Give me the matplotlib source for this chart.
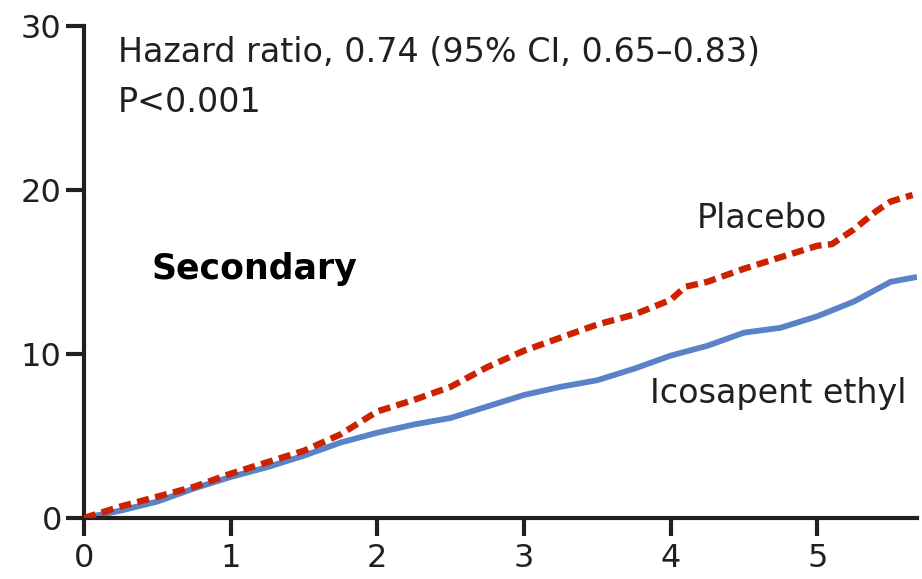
import matplotlib
matplotlib.use("Agg")
import matplotlib.pyplot as plt

# Cumulative incidence (%) by years since randomization
years = [0, 0.25, 0.5, 0.75, 1.0, 1.25, 1.5, 1.75, 2.0, 2.25, 2.5, 2.75,
         3.0, 3.25, 3.5, 3.75, 4.0, 4.1, 4.25, 4.5, 4.75, 5.0, 5.1, 5.25,
         5.4, 5.5, 5.65]
placebo = [0, 0.7, 1.3, 1.9, 2.7, 3.4, 4.1, 5.1, 6.5, 7.2, 8.0, 9.2,
           10.2, 11.0, 11.8, 12.4, 13.3, 14.1, 14.4, 15.2, 15.9, 16.6, 16.7, 17.6,
           18.7, 19.3, 19.7]

years_ice = [0, 0.25, 0.5, 0.75, 1.0, 1.25, 1.5, 1.75, 2.0, 2.25, 2.5, 2.75,
             3.0, 3.25, 3.5, 3.75, 4.0, 4.25, 4.5, 4.75, 5.0, 5.25, 5.5, 5.68]
icosapent = [0, 0.45, 1.0, 1.8, 2.5, 3.1, 3.8, 4.6, 5.2, 5.7, 6.1, 6.8,
             7.5, 8.0, 8.4, 9.1, 9.9, 10.5, 11.3, 11.6, 12.3, 13.2, 14.4, 14.7]

x_ticks = [0, 1, 2, 3, 4, 5]
y_ticks = [0, 10, 20, 30]

plt.rcParams['font.family'] = ['DejaVu Sans']

fig = plt.figure(figsize=(9.22, 5.79), dpi=100)
ax = fig.add_axes([0.0911, 0.1054, 0.9035, 0.8496])

ax.plot(years_ice, icosapent, color='#5a82c6', lw=4.2,
        solid_capstyle='butt', solid_joinstyle='miter', zorder=2)
ax.plot(years, placebo, color='#cc2200', lw=4.6,
        dashes=(1.9, 1.0), zorder=3)

ax.set_xlim(0, 5.68)
ax.set_ylim(0, 30)
ax.set_xticks(x_ticks)
ax.set_yticks(y_ticks)

for side in ('top', 'right'):
    ax.spines[side].set_visible(False)
for side in ('left', 'bottom'):
    ax.spines[side].set_linewidth(3)
    ax.spines[side].set_color('#231f20')

ax.tick_params(axis='both', direction='out', length=13, width=3,
               color='#231f20', labelsize=23, labelcolor='#231f20')
ax.tick_params(axis='x', pad=5)
ax.tick_params(axis='y', pad=3)

txt_color = '#231f20'
ax.text(0.23, 27.8, 'Hazard ratio, 0.74 (95% CI, 0.65\u20130.83)',
        fontsize=24, color=txt_color, va='baseline', ha='left')
ax.text(0.23, 24.75, 'P<0.001',
        fontsize=24, color=txt_color, va='baseline', ha='left')
ax.text(0.46, 14.6, 'Secondary', fontsize=25, fontweight='bold',
        color='black', ha='left', va='baseline')
ax.text(4.18, 17.7, 'Placebo', fontsize=24, color=txt_color,
        ha='left', va='baseline')
ax.text(3.86, 7.0, 'Icosapent ethyl', fontsize=24, color=txt_color,
        ha='left', va='baseline')

fig.savefig('out.png', dpi=100)
